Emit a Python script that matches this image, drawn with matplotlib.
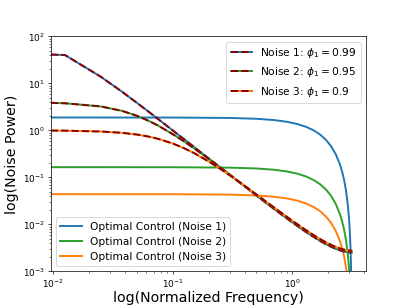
"""Noise power spectra of three AR(1) noises vs. optimal control spectra (log-log)."""
import matplotlib
matplotlib.use('Agg')
import matplotlib.pyplot as plt

# ── noise spectra ──
freq_noise = [0.0096, 0.0126, 0.0251, 0.0377, 0.0503, 0.0628, 0.0754, 0.1005,
              0.1257, 0.1508, 0.2011, 0.2513, 0.3016, 0.4021, 0.5027, 0.6032,
              0.8042, 1.0053, 1.2566, 1.5080, 1.7593, 2.0106, 2.2619, 2.5133,
              2.7646, 3.0159, 3.1416]
noise1 = [41.0, 40.0, 13.8, 6.64, 3.84, 2.50, 1.747, 0.990,
          0.636, 0.443, 0.250, 0.1605, 0.1117, 0.0633, 0.0408, 0.0286,
          0.01649, 0.01090, 0.00731, 0.00539, 0.00425, 0.00354, 0.00308, 0.00279,
          0.00262, 0.002535, 0.002525]
noise2 = [3.86, 3.77, 3.23, 2.60, 2.04, 1.601, 1.266, 0.826,
          0.572, 0.4155, 0.2452, 0.1608, 0.1133, 0.0649, 0.0421, 0.0296,
          0.01711, 0.01133, 0.00760, 0.00561, 0.00443, 0.00369, 0.00321, 0.00291,
          0.002725, 0.00264, 0.00263]
noise3 = [0.992, 0.986, 0.946, 0.887, 0.815, 0.738, 0.662, 0.524,
          0.413, 0.329, 0.2161, 0.1503, 0.1096, 0.0651, 0.0430, 0.0305,
          0.01781, 0.01185, 0.00798, 0.00589, 0.00466, 0.00388, 0.00338, 0.00306,
          0.00287, 0.00278, 0.00277]

# ── optimal control spectra ──
freq_ctrl = [0.0096, 0.1, 0.3, 0.5, 0.7, 0.9, 1.1, 1.3, 1.5, 1.7, 1.9, 2.1,
             2.3, 2.5, 2.6, 2.7, 2.8, 2.9, 2.95, 3.0, 3.03, 3.06, 3.08, 3.10,
             3.12, 3.13, 3.14]
ctrl1 = [1.88, 1.875, 1.838, 1.765, 1.659, 1.524, 1.366, 1.191, 1.007, 0.819,
         0.636, 0.4655, 0.3138, 0.1869, 0.1345, 0.0902, 0.0543, 0.0273, 0.01721,
         0.00941, 0.00584, 0.00313, 0.00178, 0.000812, 0.000219, 0.0000632,
         0.0000012]
ctrl2 = [0.165, 0.1646, 0.1613, 0.1549, 0.1456, 0.1338, 0.1199, 0.1046, 0.0883,
         0.0719, 0.0558, 0.0409, 0.0275, 0.0164, 0.0118, 0.00792, 0.00477,
         0.00240, 0.00151, 0.000826, 0.000513, 0.000275, 0.000156, 0.0000713,
         0.0000192, 0.0000055, 0.0000001]
ctrl3 = [0.044, 0.0439, 0.0430, 0.0413, 0.0388, 0.0357, 0.0320, 0.0279, 0.0236,
         0.0192, 0.0149, 0.0109, 0.00734, 0.00437, 0.00315, 0.00211, 0.00127,
         0.00064, 0.000403, 0.00022, 0.000137, 0.0000732, 0.0000417, 0.000019,
         0.0000051, 0.0000015, 0.00000003]

noise_labels = [r'Noise 1: $\phi_1 = 0.99$', r'Noise 2: $\phi_1 = 0.95$',
                r'Noise 3: $\phi_1 = 0.9$']
ctrl_labels = ['Optimal Control (Noise 1)', 'Optimal Control (Noise 2)',
               'Optimal Control (Noise 3)']
colors = ['tab:blue', 'tab:green', 'tab:orange']
DASH_COLOR = '#8B0000'
LW = 2.2


def main():
    fig, ax = plt.subplots(figsize=(6.4, 4.8), dpi=63.6)

    ctrl_handles = []
    for y, c, lab in zip([ctrl1, ctrl2, ctrl3], colors, ctrl_labels):
        h, = ax.plot(freq_ctrl, y, color=c, lw=LW, label=lab)
        ctrl_handles.append(h)

    noise_handles = []
    for y, c in zip([noise1, noise2, noise3], colors):
        solid, = ax.plot(freq_noise, y, color=c, lw=LW)
        dashed, = ax.plot(freq_noise, y, color=DASH_COLOR, lw=LW, ls='--')
        noise_handles.append((solid, dashed))

    ax.set_xscale('log')
    ax.set_yscale('log')
    ax.set_xlim(10 ** -2.018, 10 ** 0.618)
    ax.set_ylim(1e-3, 1e2)

    ax.set_xlabel('log(Normalized Frequency)', fontsize=16, labelpad=1)
    ax.set_ylabel('log(Noise Power)', fontsize=16)

    # colored line with the dark red dashes drawn over it
    leg1 = ax.legend(noise_handles, noise_labels, loc='upper right', fontsize=12)
    ax.add_artist(leg1)
    ax.legend(ctrl_handles, ctrl_labels, loc='lower left', fontsize=12)

    fig.savefig('out.png', dpi=63.6)
    plt.close(fig)


if __name__ == '__main__':
    main()
